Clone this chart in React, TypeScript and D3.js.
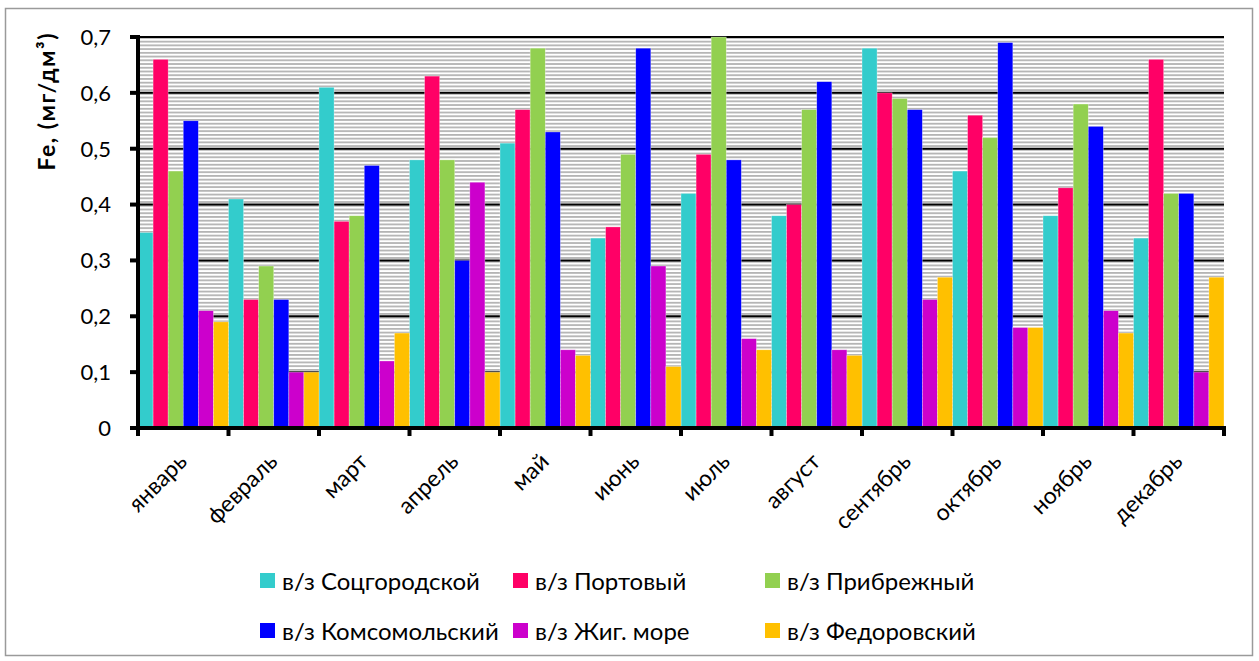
import React from "react";
import * as d3 from "d3";

const months = ["январь", "февраль", "март", "апрель", "май", "июнь", "июль", "август", "сентябрь", "октябрь", "ноябрь", "декабрь"];
const seriesNames = ["в/з Соцгородской", "в/з Портовый", "в/з Прибрежный", "в/з Комсомольский", "в/з Жиг. море", "в/з Федоровский"];
const seriesColors = ["#33CCCC", "#FF0066", "#92D050", "#0000FF", "#CC00CC", "#FFC000"];
const sotsgorodskoy = [0.35, 0.41, 0.61, 0.48, 0.51, 0.34, 0.42, 0.38, 0.68, 0.46, 0.38, 0.34];
const portovy = [0.66, 0.23, 0.37, 0.63, 0.57, 0.36, 0.49, 0.40, 0.60, 0.56, 0.43, 0.66];
const pribrezhny = [0.46, 0.29, 0.38, 0.48, 0.68, 0.49, 0.70, 0.57, 0.59, 0.52, 0.58, 0.42];
const komsomolsky = [0.55, 0.23, 0.47, 0.30, 0.53, 0.68, 0.48, 0.62, 0.57, 0.69, 0.54, 0.42];
const zhigMore = [0.21, 0.10, 0.12, 0.44, 0.14, 0.29, 0.16, 0.14, 0.23, 0.18, 0.21, 0.10];
const fedorovsky = [0.19, 0.10, 0.17, 0.10, 0.13, 0.11, 0.14, 0.13, 0.27, 0.18, 0.17, 0.27];
const yTicks = [0, 0.1, 0.2, 0.3, 0.4, 0.5, 0.6, 0.7];
const yTickLabels = ["0", "0,1", "0,2", "0,3", "0,4", "0,5", "0,6", "0,7"];

const allSeries = [sotsgorodskoy, portovy, pribrezhny, komsomolsky, zhigMore, fedorovsky];

const FONT = "Lato, 'Open Sans', sans-serif";

export default function App() {
  const W = 1259, H = 661;
  const left = 138, right = 1224, top = 37, bottom = 428;
  const x = d3.scaleBand<string>().domain(months).range([left, right]).paddingInner(0).paddingOuter(0);
  const xi = d3.scaleBand<number>().domain(d3.range(allSeries.length)).range([0, x.bandwidth()]).padding(0);
  const y = d3.scaleLinear().domain([0, 0.7]).range([bottom, top]);

  const legendCols = [260, 513, 765];
  const legendRows = [573, 623];

  return (
    <svg width={W} height={H} style={{ position: "absolute", left: 0, top: 0 }} fontFamily={FONT}>
      <defs>
        <pattern id="stripes" patternUnits="userSpaceOnUse" width={8} height={3.73} y={top}>
          <rect width={8} height={3.73} fill="#ffffff" />
          <rect y={0} width={8} height={1.8} fill="#b4b4b4" />
        </pattern>
      </defs>
      <rect x={0} y={0} width={W} height={H} fill="#fff" />
      <rect x={5.5} y={8.5} width={1247} height={647} fill="#fff" stroke="#9a9a9a" strokeWidth={1.5} />
      <rect x={left} y={top} width={right - left} height={bottom - top} fill="url(#stripes)" />
      {yTicks.filter((t) => t > 0).map((t) => (
        <line key={t} x1={left} x2={right} y1={y(t)} y2={y(t)} stroke="#000" strokeWidth={2} />
      ))}
      {allSeries.map((vals, si) =>
        months.map((m, mi) => (
          <rect
            key={`${si}-${mi}`}
            x={(x(m) as number) + (xi(si) as number)}
            y={y(vals[mi])}
            width={xi.bandwidth()}
            height={bottom - y(vals[mi])}
            fill={seriesColors[si]}
            stroke="#ffffff"
            strokeOpacity={0.5}
            strokeWidth={0.6}
          />
        ))
      )}
      {/* axes */}
      <line x1={left} x2={left} y1={top - 2} y2={bottom + 2} stroke="#000" strokeWidth={4} />
      <line x1={left - 2} x2={right + 2} y1={bottom} y2={bottom} stroke="#000" strokeWidth={4} />
      {yTicks.map((t, i) => (
        <g key={t}>
          <line x1={left - 8} x2={left} y1={y(t)} y2={y(t)} stroke="#000" strokeWidth={4} />
          <text x={left - 27} y={y(t)} dy="0.36em" textAnchor="end" fontSize={22} fill="#000">{yTickLabels[i]}</text>
        </g>
      ))}
      {d3.range(months.length + 1).map((i) => {
        const xx = left + i * x.step();
        return <line key={i} x1={xx} x2={xx} y1={bottom} y2={bottom + 8} stroke="#000" strokeWidth={4} />;
      })}
      {months.map((m) => {
        const cx = (x(m) as number) + x.bandwidth() / 2 + 5;
        const cy = bottom + 35;
        return (
          <text key={m} x={cx} y={cy} textAnchor="end" fontSize={23} fill="#000" transform={`rotate(-45, ${cx}, ${cy})`}>
            {m}
          </text>
        );
      })}
      <text x={0} y={0} transform={`translate(55, 102) rotate(-90)`} textAnchor="middle" fontSize={23} fontWeight="bold" fill="#000" textLength={137} lengthAdjust="spacing">
        Fe, (мг/дм³)
      </text>
      {seriesNames.map((name, i) => {
        const col = i % 3, row = Math.floor(i / 3);
        const lx = legendCols[col], ly = legendRows[row];
        return (
          <g key={name}>
            <rect x={lx} y={ly} width={15} height={15} fill={seriesColors[i]} />
            <text x={lx + 22} y={ly + 8} dy="0.36em" fontSize={24} fill="#000">{name}</text>
          </g>
        );
      })}
    </svg>
  );
}
